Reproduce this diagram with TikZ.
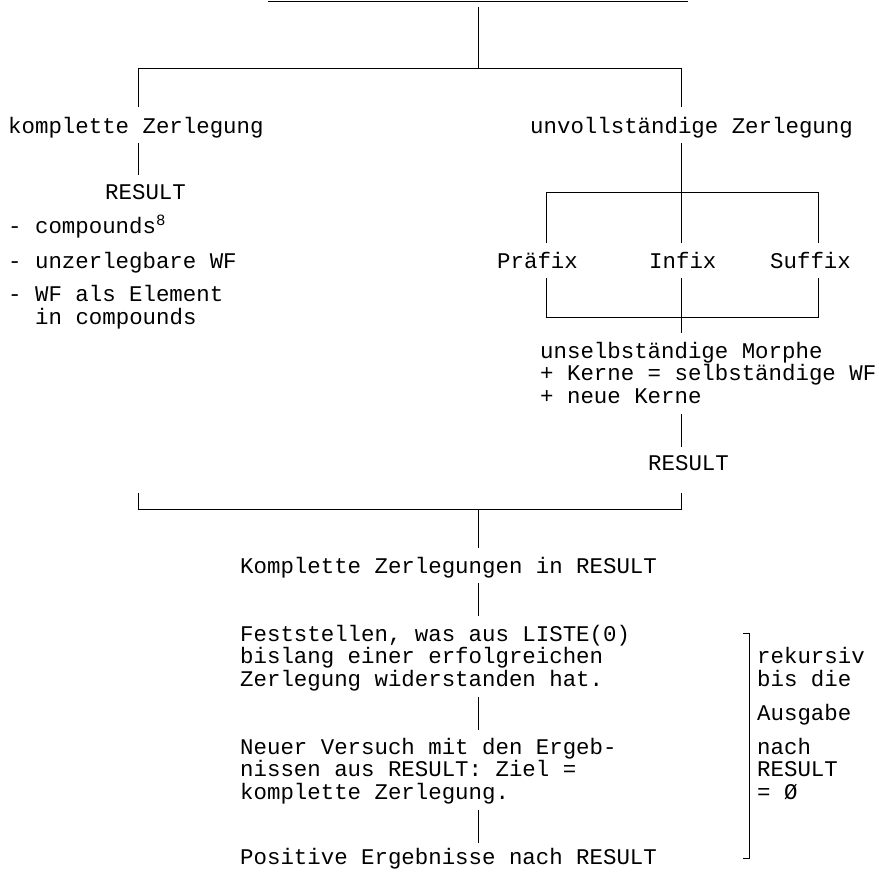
\documentclass[tikz,border=0pt]{standalone}
\usepackage{fontspec}
\newfontfamily\tw{Liberation Mono}
\begin{document}
\begin{tikzpicture}[x=1pt,y=-1pt,
  txt/.style={inner sep=0pt, anchor=base west, font=\tw\fontsize{22.4}{24}\selectfont},
  ln/.style={line width=0.8pt, black}]
\useasboundingbox (0,0) rectangle (879,871);
% text
\node[txt] (kz) at (8,133) {komplette Zerlegung};
\node[txt] (uz) at (530,133) {unvollständige Zerlegung};
\node[txt] (r1) at (105,199) {RESULT};
\node[txt] (c1) at (8,233) {- compounds\textsuperscript{8}};
\node[txt] (c2) at (8,268) {- unzerlegbare WF};
\node[txt] (c3) at (8,301) {- WF als Element};
\node[txt] (c4) at (35,324) {in compounds};
\node[txt] (pre) at (497,268) {Präfix};
\node[txt] (inf) at (649,268) {Infix};
\node[txt] (suf) at (770,268) {Suffix};
\node[txt] (m1) at (540,358) {unselbständige Morphe};
\node[txt] (m2) at (540,380) {+ Kerne = selbständige WF};
\node[txt] (m3) at (540,403) {+ neue Kerne};
\node[txt] (r2) at (648,470) {RESULT};
\node[txt] (kzr) at (240,573) {Komplette Zerlegungen in RESULT};
\node[txt] (f1) at (240,641) {Feststellen, was aus LISTE(0)};
\node[txt] (f2) at (240,663) {bislang einer erfolgreichen};
\node[txt] (f3) at (240,686) {Zerlegung widerstanden hat.};
\node[txt] (n1) at (240,754) {Neuer Versuch mit den Ergeb-};
\node[txt] (n2) at (240,776) {nissen aus RESULT: Ziel =};
\node[txt] (n3) at (240,799) {komplette Zerlegung.};
\node[txt] (pos) at (240,864) {Positive Ergebnisse nach RESULT};
\node[txt] (k1) at (757,663) {rekursiv};
\node[txt] (k2) at (757,686) {bis die};
\node[txt] (k3) at (757,720) {Ausgabe};
\node[txt] (k4) at (757,754) {nach};
\node[txt] (k5) at (757,776) {RESULT};
\node[txt] (k6) at (757,799) {= Ø};
% coordinates
\coordinate (t1) at (268,1); \coordinate (t2) at (688,1);
\coordinate (v0a) at (478,7); \coordinate (v0b) at (478,68);
\coordinate (bl) at (138,68); \coordinate (br) at (681,68);
\coordinate (bla) at (138,107); \coordinate (bra) at (681,107);
\coordinate (lv1) at (138,143); \coordinate (lv2) at (138,175);
\coordinate (rv1) at (681,143); \coordinate (rv2) at (681,243);
\coordinate (p1) at (546,243); \coordinate (p2) at (546,192);
\coordinate (p3) at (818,192); \coordinate (p4) at (818,243);
\coordinate (q1) at (546,278); \coordinate (q2) at (546,317);
\coordinate (q3) at (818,317); \coordinate (q4) at (818,278);
\coordinate (qi1) at (681,278); \coordinate (qi2) at (681,333);
\coordinate (rr1) at (681,414); \coordinate (rr2) at (681,447);
\coordinate (s1) at (138,493); \coordinate (s2) at (138,509);
\coordinate (s3) at (681,509); \coordinate (s4) at (681,493);
\coordinate (sc1) at (478,509); \coordinate (sc2) at (478,548);
\coordinate (d1a) at (478,583); \coordinate (d1b) at (478,616);
\coordinate (d2a) at (478,697); \coordinate (d2b) at (478,730);
\coordinate (d3a) at (478,810); \coordinate (d3b) at (478,843);
\coordinate (ka) at (743,633); \coordinate (kb) at (749,633);
\coordinate (kc) at (749,858); \coordinate (kd) at (743,858);
% lines
\draw[ln] (t1) -- (t2);
\draw[ln] (v0a) -- (v0b);
\draw[ln] (bla) -- (bl) -- (br) -- (bra);
\draw[ln] (lv1) -- (lv2);
\draw[ln] (rv1) -- (rv2);
\draw[ln] (p1) -- (p2) -- (p3) -- (p4);
\draw[ln] (q1) -- (q2) -- (q3) -- (q4);
\draw[ln] (qi1) -- (qi2);
\draw[ln] (rr1) -- (rr2);
\draw[ln] (s1) -- (s2) -- (s3) -- (s4);
\draw[ln] (sc1) -- (sc2);
\draw[ln] (d1a) -- (d1b);
\draw[ln] (d2a) -- (d2b);
\draw[ln] (d3a) -- (d3b);
\draw[ln] (ka) -- (kb) -- (kc) -- (kd);
\end{tikzpicture}
\end{document}
